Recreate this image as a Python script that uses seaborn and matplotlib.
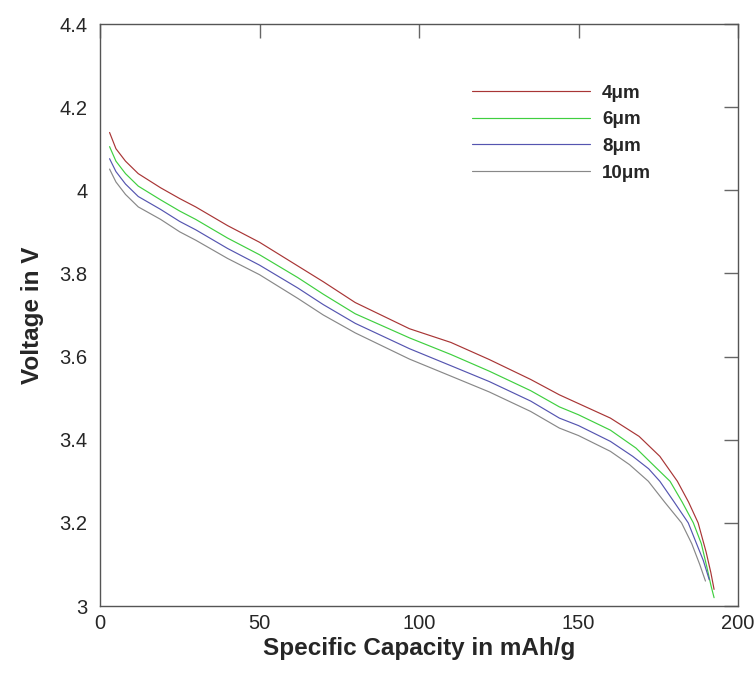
import matplotlib
matplotlib.use("Agg")
import matplotlib.pyplot as plt
import seaborn as sns
import pandas as pd

# ---- data ----
labels = ["4\u03bcm", "6\u03bcm", "8\u03bcm", "10\u03bcm"]

x_4um = [3, 5, 8, 12, 19, 25, 30, 40, 50, 62, 70, 80, 97, 110, 122, 135, 144, 150, 160, 169, 175.5, 181, 184.5, 187.5, 190, 191.5, 192.5]
v_4um = [4.139, 4.10, 4.07, 4.04, 4.006, 3.98, 3.96, 3.915, 3.875, 3.818, 3.78, 3.73, 3.667, 3.634, 3.593, 3.545, 3.508, 3.487, 3.452, 3.408, 3.36, 3.30, 3.25, 3.20, 3.13, 3.08, 3.04]

x_6um = [3, 5, 8, 12, 19, 25, 30, 40, 50, 62, 70, 80, 97, 110, 122, 135, 144, 150, 160, 168, 174, 178.7, 182.5, 186, 188.5, 190.2, 191.5, 192.5]
v_6um = [4.105, 4.07, 4.04, 4.01, 3.977, 3.95, 3.93, 3.885, 3.845, 3.79, 3.75, 3.703, 3.645, 3.605, 3.565, 3.518, 3.479, 3.46, 3.423, 3.38, 3.335, 3.30, 3.25, 3.20, 3.15, 3.095, 3.05, 3.02]

x_8um = [3, 5, 8, 12, 19, 25, 30, 40, 50, 62, 70, 80, 97, 110, 122, 135, 144, 150, 160, 167, 172, 175.5, 180, 184.4, 187, 189.1, 191]
v_8um = [4.076, 4.045, 4.015, 3.985, 3.954, 3.925, 3.905, 3.86, 3.82, 3.765, 3.725, 3.68, 3.619, 3.578, 3.54, 3.493, 3.452, 3.434, 3.396, 3.36, 3.33, 3.30, 3.25, 3.20, 3.15, 3.11, 3.063]

x_10um = [3, 5, 8, 12, 19, 25, 30, 40, 50, 62, 70, 80, 97, 110, 122, 135, 144, 150, 160, 166, 171.9, 177, 182.3, 185.5, 188, 189.8]
v_10um = [4.051, 4.02, 3.99, 3.96, 3.93, 3.90, 3.88, 3.836, 3.797, 3.74, 3.70, 3.657, 3.594, 3.553, 3.515, 3.468, 3.428, 3.41, 3.372, 3.34, 3.30, 3.25, 3.20, 3.15, 3.10, 3.06]

x_ticks = [0, 50, 100, 150, 200]
y_ticks = [3, 3.2, 3.4, 3.6, 3.8, 4, 4.2, 4.4]
y_ticklabels = ["3", "3.2", "3.4", "3.6", "3.8", "4", "4.2", "4.4"]

colors = ["#a83535", "#3fcf3f", "#5555b0", "#888888"]

frames = []
for lab, xs, vs in zip(labels, [x_4um, x_6um, x_8um, x_10um], [v_4um, v_6um, v_8um, v_10um]):
    frames.append(pd.DataFrame({"cap": xs, "volt": vs, "thickness": lab}))
df = pd.concat(frames, ignore_index=True)

sns.set_style("white")
plt.rcParams["font.family"] = ["Liberation Sans", "DejaVu Sans"]

fig = plt.figure(figsize=(7.56, 6.77), dpi=100)
ax = fig.add_axes([100 / 756, 1 - 606 / 677, 638 / 756, 582 / 677])

sns.lineplot(data=df, x="cap", y="volt", hue="thickness", palette=colors,
             sort=False, estimator=None, linewidth=0.85, ax=ax, legend=True)

ax.set_xlim(0, 200)
ax.set_ylim(3, 4.4)
ax.set_xticks(x_ticks)
ax.set_xticklabels([str(t) for t in x_ticks])
ax.set_yticks(y_ticks)
ax.set_yticklabels(y_ticklabels)

ax.tick_params(direction="in", length=10, width=1, color="#666666",
               top=True, right=True, labelsize=14.5, pad=6)
ax.tick_params(axis="y", pad=9)
for s in ax.spines.values():
    s.set_color("#555555")
    s.set_linewidth(1.0)

ax.set_xlabel("Specific Capacity in mAh/g", fontsize=17.5, fontweight="bold", labelpad=3)
ax.set_ylabel("Voltage in V", fontsize=17.5, fontweight="bold", labelpad=11)

leg = ax.legend(loc="upper left", bbox_to_anchor=(455 / 756, 1 - 68 / 677),
                bbox_transform=fig.transFigure, frameon=False,
                handlelength=6.3, handletextpad=0.65, labelspacing=0.5,
                prop={"weight": "bold", "size": 13.5})
for line in leg.get_lines():
    line.set_linewidth(0.85)

fig.savefig("out.png", dpi=100)
